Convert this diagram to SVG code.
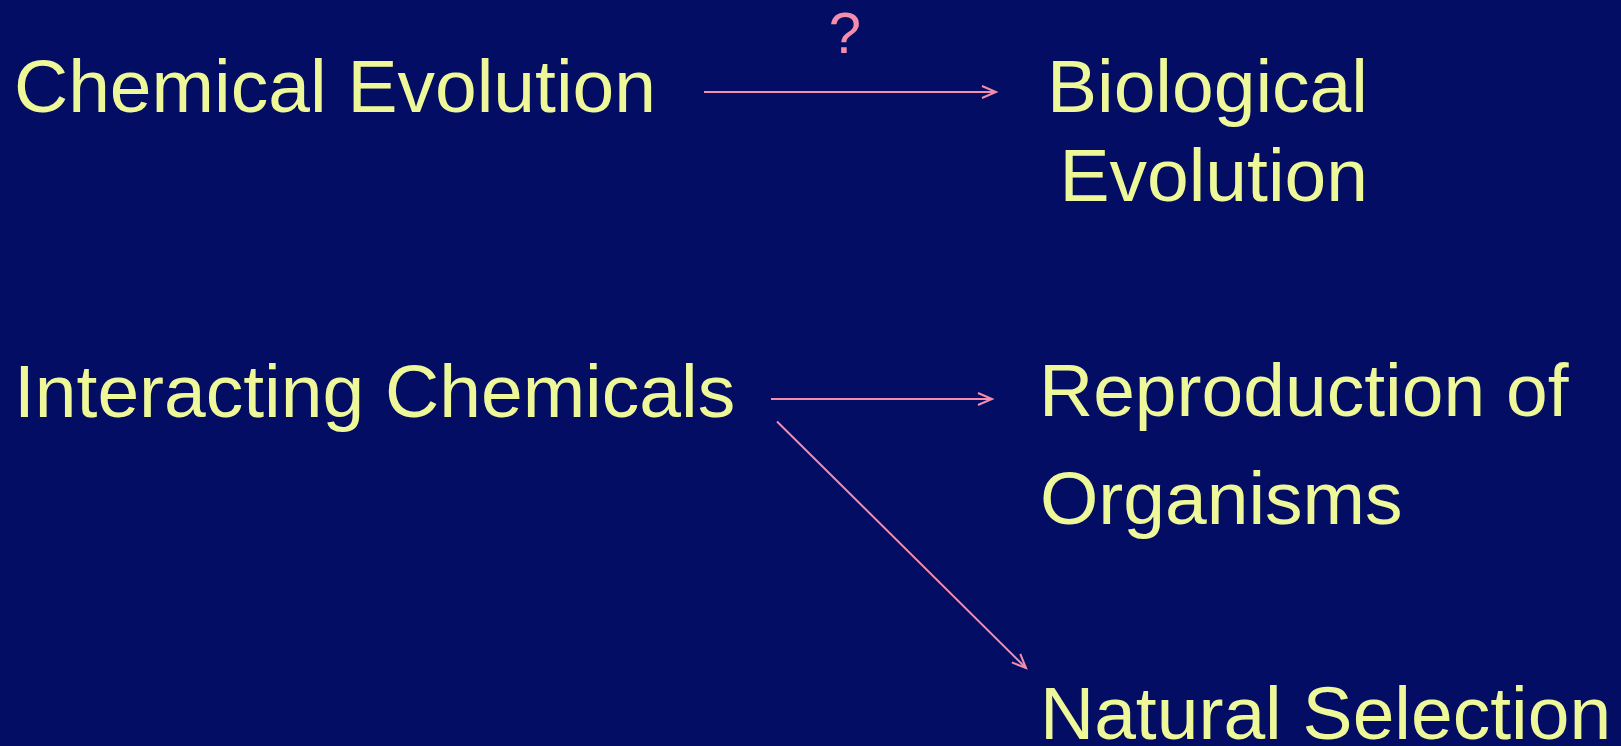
<svg xmlns="http://www.w3.org/2000/svg" width="1621" height="746" viewBox="0 0 1621 746">
<defs>
<style>
.t{font-family:"Liberation Sans",Arial,Helvetica,sans-serif;font-size:75px;fill:#EEF898;}
.q{font-family:"Liberation Sans",Arial,Helvetica,sans-serif;font-size:58px;fill:#F38DAB;}
.c{stroke:#F38DAB;stroke-width:2;fill:none;marker-end:url(#ah);}
</style>
<marker id="ah" markerUnits="userSpaceOnUse" markerWidth="18" markerHeight="16" refX="15" refY="7" orient="auto" overflow="visible">
<path d="M1,1 L15,7 L1,13" fill="none" stroke="#F38DAB" stroke-width="2"/>
</marker>
</defs>
<rect width="1621" height="746" fill="#020D63"/>
<g id="chemical-evolution"><text class="t" x="14" y="111.5">Chemical Evolution</text></g>
<g id="biological-evolution"><text class="t" x="1368" y="111.5" text-anchor="end">Biological</text><text class="t" x="1368" y="201" text-anchor="end">Evolution</text></g>
<g id="interacting-chemicals"><text class="t" x="14" y="417">Interacting Chemicals</text></g>
<g id="reproduction"><text class="t" x="1039" y="416">Reproduction of</text><text class="t" x="1040" y="524">Organisms</text></g>
<g id="natural-selection"><text class="t" x="1040" y="739">Natural Selection</text></g>
<g id="connectors">
<line class="c" x1="704" y1="92" x2="996" y2="92"/>
<text class="q" x="845" y="53" text-anchor="middle">?</text>
<line class="c" x1="771" y1="399" x2="992" y2="399"/>
<line class="c" x1="777" y1="421.5" x2="1026" y2="668"/>
</g>
</svg>
